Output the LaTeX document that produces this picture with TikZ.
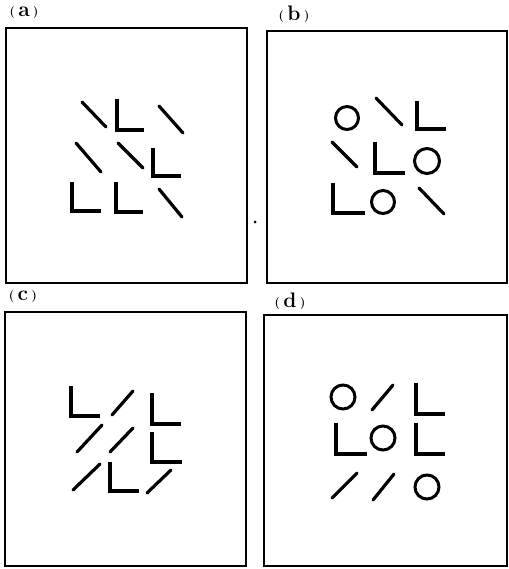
\documentclass[tikz,border=0pt]{standalone}
\usepackage{tikz}

\begin{document}
\begin{tikzpicture}[x=1pt, y=-1pt]
    \tikzstyle{panel} = [draw, line width=1.8pt]
    \tikzstyle{bar} = [draw, line width=3.2pt, line cap=round]
    \tikzstyle{ell} = [draw, line width=3.2pt, line cap=butt, line join=miter]
    \tikzstyle{ring} = [draw, line width=3pt]
    \tikzstyle{tag} = [font=\fontsize{21}{23}\selectfont\bfseries, inner sep=0pt]
    \newcommand{\pl}{\raisebox{1pt}{\fontsize{12}{14}\selectfont\bfseries(}}
    \newcommand{\pr}{\raisebox{1pt}{\fontsize{12}{14}\selectfont\bfseries)}}

    \useasboundingbox (0,0) rectangle (508,569);

    % frames and labels
    \path [panel] (6,28) rectangle (247,283);
    \path [panel] (267,31) rectangle (507,283);
    \path [panel] (5,312) rectangle (246,566);
    \path [panel] (264,315) rectangle (507,566);
    \node [tag] (ta) at (24,13) {\pl\,a\,\pr};
    \node [tag] (tb) at (294,14) {\pl\,b\,\pr};
    \node [tag] (tc) at (23,297) {\pl\,c\,\pr};
    \node [tag] (td) at (290,301) {\pl\,d\,\pr};
    \fill (255,222) circle (1.5);

    % (a)
    \path [bar] (82,102) -- (106,127);
    \path [ell] (117,99) -- (117,130) -- (144,130);
    \path [bar] (159,106) -- (183,133);
    \path [bar] (76,143) -- (101,172);
    \path [bar] (118,143) -- (143,168);
    \path [ell] (153,148) -- (153,176) -- (181,176);
    \path [ell] (72,182) -- (72,211) -- (101,211);
    \path [ell] (116,182) -- (116,212) -- (143,212);
    \path [bar] (159,189) -- (182,217);

    % (b)
    \path [ring] (347,118) circle (11.5);
    \path [bar] (376,98) -- (402,125);
    \path [ell] (417,101) -- (417,129) -- (446,129);
    \path [bar] (332,142) -- (357,167);
    \path [ell] (375,142) -- (375,173) -- (405,173);
    \path [ring] (427,161) circle (12.5);
    \path [ell] (333,183) -- (333,213) -- (365,213);
    \path [ring] (383,202) circle (11.5);
    \path [bar] (419,188) -- (444,214);

    % (c)
    \path [ell] (71,386) -- (71,416) -- (100,416);
    \path [bar] (112,415) -- (133,391);
    \path [ell] (152,393) -- (152,424) -- (181,424);
    \path [bar] (77,452) -- (102,425);
    \path [bar] (110,452) -- (133,428);
    \path [ell] (152,432) -- (152,462) -- (182,462);
    \path [bar] (73,490) -- (100,464);
    \path [ell] (110,462) -- (110,491) -- (139,491);
    \path [bar] (147,493) -- (171,470);

    % (d)
    \path [ring] (343,397) circle (12);
    \path [bar] (372,410) -- (393,385);
    \path [ell] (416,383) -- (416,414) -- (445,414);
    \path [ell] (336,423) -- (336,454) -- (367,454);
    \path [ring] (383,438) circle (12);
    \path [ell] (416,423) -- (416,454) -- (445,454);
    \path [bar] (332,498) -- (357,473);
    \path [bar] (373,500) -- (394,474);
    \path [ring] (427,487) circle (12);
\end{tikzpicture}
\end{document}
